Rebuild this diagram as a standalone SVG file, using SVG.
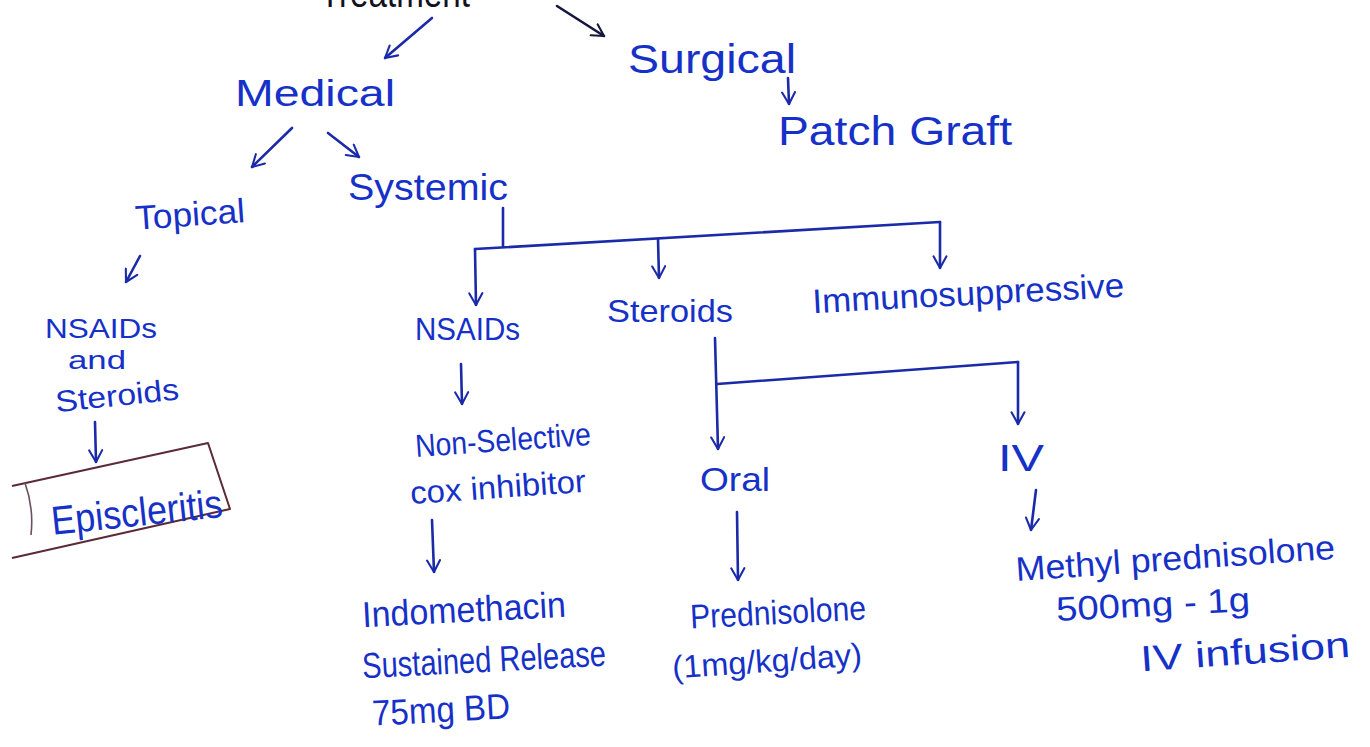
<svg xmlns="http://www.w3.org/2000/svg" width="1370" height="747" viewBox="0 0 1370 747">
  <style>
    .t { font-family: "Liberation Sans", "DejaVu Sans", sans-serif; fill: #1631c8; }
    .h { font-family: "Liberation Sans", "DejaVu Sans", sans-serif; fill: #111122; }
    .c { fill: none; stroke: #1a2aa8; stroke-width: 2.6; stroke-linecap: round; stroke-linejoin: round; }
    .k { fill: none; stroke: #15163a; stroke-width: 2.6; stroke-linecap: round; }
  </style>
  <defs>
    <marker id="arr" viewBox="0 0 12 12" refX="10" refY="6" markerWidth="6" markerHeight="6" markerUnits="strokeWidth" orient="auto">
      <path d="M1,1 L10,6 L1,11" fill="none" stroke="context-stroke" stroke-width="1.6" stroke-linecap="round" stroke-linejoin="round"/>
    </marker>
  </defs>
  <rect width="1370" height="747" fill="#ffffff"/>

  <!-- root label, running off the top edge -->
  <g id="treatment">
    <text class="h" x="320" y="7" font-size="40" textLength="150" lengthAdjust="spacingAndGlyphs">Treatment</text>
  </g>

  <g id="connectors">
    <line class="c" x1="432" y1="18" x2="385" y2="58" marker-end="url(#arr)"/>
    <line class="k" x1="557" y1="6" x2="604" y2="36" marker-end="url(#arr)"/>
    <line class="c" x1="788" y1="78" x2="789" y2="104" marker-end="url(#arr)"/>
    <line class="c" x1="292" y1="128" x2="252" y2="167" marker-end="url(#arr)"/>
    <line class="c" x1="328" y1="133" x2="359" y2="157" marker-end="url(#arr)"/>
    <line class="c" x1="140" y1="256" x2="126" y2="282" marker-end="url(#arr)"/>
    <line class="c" x1="95" y1="422" x2="96" y2="462" marker-end="url(#arr)"/>
    <!-- systemic branches -->
    <polyline class="c" points="503,208 503,246"/>
    <polyline class="c" points="475,249 940,222"/>
    <line class="c" x1="475" y1="249" x2="476" y2="305" marker-end="url(#arr)"/>
    <line class="c" x1="658" y1="239" x2="659" y2="278" marker-end="url(#arr)"/>
    <line class="c" x1="940" y1="222" x2="940" y2="268" marker-end="url(#arr)"/>
    <line class="c" x1="461" y1="364" x2="462" y2="404" marker-end="url(#arr)"/>
    <!-- steroid routes -->
    <line class="c" x1="715" y1="338" x2="718" y2="449" marker-end="url(#arr)"/>
    <polyline class="c" points="717,384 1018,362"/>
    <line class="c" x1="1018" y1="362" x2="1018" y2="424" marker-end="url(#arr)"/>
    <line class="c" x1="1036" y1="490" x2="1031" y2="530" marker-end="url(#arr)"/>
    <line class="c" x1="737" y1="512" x2="738" y2="580" marker-end="url(#arr)"/>
    <line class="c" x1="432" y1="520" x2="434" y2="572" marker-end="url(#arr)"/>
  </g>

  <g id="medical">
    <text class="t" x="235" y="106" font-size="36" textLength="160" lengthAdjust="spacingAndGlyphs">Medical</text>
  </g>
  <g id="surgical">
    <text class="t" x="628" y="73" font-size="40" textLength="168" lengthAdjust="spacingAndGlyphs">Surgical</text>
  </g>
  <g id="patch-graft">
    <text class="t" x="778" y="145" font-size="40" textLength="234" lengthAdjust="spacingAndGlyphs">Patch Graft</text>
  </g>
  <g id="topical">
    <text class="t" x="135" y="226" font-size="34" textLength="110" lengthAdjust="spacingAndGlyphs" transform="rotate(-4 190 215)">Topical</text>
  </g>
  <g id="systemic">
    <text class="t" x="348" y="200" font-size="36" textLength="160" lengthAdjust="spacingAndGlyphs">Systemic</text>
  </g>
  <g id="topical-drugs">
    <text class="t" x="45" y="338" font-size="28" textLength="112" lengthAdjust="spacingAndGlyphs">NSAIDs</text>
    <text class="t" x="68" y="369" font-size="26" textLength="58" lengthAdjust="spacingAndGlyphs">and</text>
    <text class="t" x="55" y="406" font-size="30" textLength="124" lengthAdjust="spacingAndGlyphs" transform="rotate(-6 115 395)">Steroids</text>
  </g>
  <g id="episcleritis">
    <path d="M12,486 L208,443 L230,509 L12,558" fill="none" stroke="#5a2a36" stroke-width="2" stroke-linejoin="round"/>
    <path d="M25,483 Q34,508 31,535" fill="none" stroke="#6a5060" stroke-width="1.6"/>
    <text class="t" x="50" y="526" font-size="40" textLength="172" lengthAdjust="spacingAndGlyphs" transform="rotate(-6 136 505)">Episcleritis</text>
  </g>
  <g id="nsaids">
    <text class="t" x="415" y="340" font-size="32" textLength="105" lengthAdjust="spacingAndGlyphs">NSAIDs</text>
  </g>
  <g id="steroids">
    <text class="t" x="607" y="322" font-size="32" textLength="126" lengthAdjust="spacingAndGlyphs">Steroids</text>
  </g>
  <g id="immunosuppressive">
    <text class="t" x="812" y="305" font-size="34" textLength="312" lengthAdjust="spacingAndGlyphs" transform="rotate(-3 968 290)">Immunosuppressive</text>
  </g>
  <g id="non-selective">
    <text class="t" x="415" y="451" font-size="32" textLength="176" lengthAdjust="spacingAndGlyphs" transform="rotate(-4 503 440)">Non-Selective</text>
    <text class="t" x="410" y="498" font-size="32" textLength="176" lengthAdjust="spacingAndGlyphs" transform="rotate(-4 498 488)">cox inhibitor</text>
  </g>
  <g id="indomethacin">
    <text class="t" x="362" y="622" font-size="36" textLength="204" lengthAdjust="spacingAndGlyphs" transform="rotate(-3 464 610)">Indomethacin</text>
    <text class="t" x="362" y="672" font-size="36" textLength="244" lengthAdjust="spacingAndGlyphs" transform="rotate(-3 484 660)">Sustained Release</text>
    <text class="t" x="372" y="722" font-size="36" textLength="138" lengthAdjust="spacingAndGlyphs" transform="rotate(-3 441 710)">75mg BD</text>
  </g>
  <g id="oral">
    <text class="t" x="700" y="491" font-size="34" textLength="70" lengthAdjust="spacingAndGlyphs">Oral</text>
  </g>
  <g id="iv">
    <text class="t" x="998" y="471" font-size="36" textLength="46" lengthAdjust="spacingAndGlyphs">IV</text>
  </g>
  <g id="prednisolone">
    <text class="t" x="690" y="624" font-size="34" textLength="176" lengthAdjust="spacingAndGlyphs" transform="rotate(-3 778 612)">Prednisolone</text>
    <text class="t" x="672" y="672" font-size="32" textLength="190" lengthAdjust="spacingAndGlyphs" transform="rotate(-4 767 660)">(1mg/kg/day)</text>
  </g>
  <g id="methylprednisolone">
    <text class="t" x="1015" y="570" font-size="34" textLength="320" lengthAdjust="spacingAndGlyphs" transform="rotate(-4 1175 555)">Methyl prednisolone</text>
    <text class="t" x="1056" y="616" font-size="34" textLength="194" lengthAdjust="spacingAndGlyphs" transform="rotate(-3 1153 605)">500mg - 1g</text>
    <text class="t" x="1140" y="664" font-size="36" textLength="210" lengthAdjust="spacingAndGlyphs" transform="rotate(-4 1245 650)">IV infusion</text>
  </g>
</svg>
